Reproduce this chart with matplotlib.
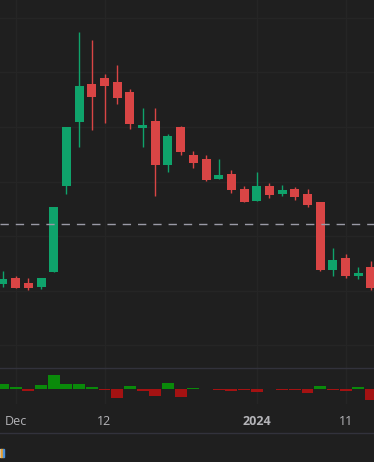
import numpy as np
import matplotlib
matplotlib.use("Agg")
import matplotlib.pyplot as plt
from matplotlib.patches import Rectangle

# daily candles (arbitrary price units)
opens = [10.565, 10.620, 10.574, 10.538, 10.672, 11.462, 12.049, 12.394, 12.449, 12.412,
         12.321, 11.994, 12.055, 11.655, 12.000, 11.744, 11.707, 11.527, 11.570, 11.432,
         11.325, 11.460, 11.389, 11.432, 11.386, 11.313, 10.693, 10.800, 10.638, 10.718]
highs = [10.684, 10.638, 10.620, 10.620, 11.267, 12.000, 12.870, 12.797, 12.485, 12.568,
         12.348, 12.174, 12.174, 11.936, 12.009, 11.780, 11.744, 11.707, 11.606, 11.460,
         11.588, 11.487, 11.469, 11.451, 11.432, 11.313, 10.892, 10.837, 10.718, 10.773]
lows = [10.538, 10.525, 10.510, 10.519, 10.672, 11.389, 11.820, 11.975, 12.039, 12.213,
        11.984, 11.820, 11.371, 11.591, 11.746, 11.627, 11.508, 11.527, 11.398, 11.316,
        11.325, 11.353, 11.371, 11.334, 11.270, 10.684, 10.638, 10.620, 10.611, 10.510]
closes = [10.611, 10.528, 10.528, 10.620, 11.267, 12.000, 12.375, 12.277, 12.378, 12.268,
          12.030, 12.018, 11.655, 11.918, 11.774, 11.673, 11.517, 11.560, 11.426, 11.316,
          11.460, 11.380, 11.423, 11.362, 11.288, 10.693, 10.782, 10.638, 10.663, 10.528]

# signed volume bars (positive = green up, negative = red down)
vol_delta = [188, 80, -80, 160, 548, 188, 188, 80, -52, -360, 108, -80, -280, 228, -320,
             40, -20, -52, -80, -52, -120, -20, -52, -52, -160, 108, -52, -80, 68, -440]

tick_pos = [1, 8, 20, 27]
tick_labels = ["Dec", "12", "2024", "11"]
price_grid = [10.0, 10.5, 11.0, 11.5, 12.0, 12.5, 13.0]
ref_price = 11.109

BG = "#1f1f1f"
GRID = "#252525"
UP = "#0fa36b"
DOWN = "#d94545"
VUP = "#0a8a0a"
VDOWN = "#a41212"

W, H = 374, 462
fig = plt.figure(figsize=(W / 100, H / 100), dpi=100, facecolor=BG)

ax = fig.add_axes([0, (H - 368) / H, 1, 368 / H], facecolor=BG)
axv = fig.add_axes([0, (H - 404) / H, 1, 36 / H], facecolor=BG, sharex=ax)

x = np.arange(len(opens))
o = np.array(opens)
c = np.array(closes)
up = c >= o
cols = np.where(up, UP, DOWN)

for xi in tick_pos:
    ax.axvline(xi, color=GRID, lw=1, zorder=0)
    axv.axvline(xi, color=GRID, lw=1, zorder=0)
for p in price_grid:
    ax.axhline(p, color=GRID, lw=1, zorder=0)

ax.vlines(x, lows, highs, colors=cols, lw=1, zorder=2)
body = np.maximum(np.abs(c - o), 0.02)
ax.bar(x, body, bottom=np.minimum(o, c), width=0.71, color=cols, zorder=3, linewidth=0)
ax.axhline(ref_price, color="#9a9aa6", lw=1, dashes=(6, 5), zorder=4)

ax.set_xlim(-0.236, 29.24)
ax.set_ylim(9.793, 13.163)
ax.set_xticks([])
ax.set_yticks([])
for s in ax.spines.values():
    s.set_visible(False)

v = np.array(vol_delta)
axv.bar(x, v, width=0.94, color=np.where(v > 0, VUP, VDOWN), linewidth=0, zorder=2)
axv.set_ylim(-612, 828)
axv.set_yticks([])
axv.set_xticks(tick_pos)
axv.set_xticklabels(tick_labels)
axv.tick_params(axis="x", length=0, pad=8, labelsize=9, labelcolor="#b4b4b8")
for lab in axv.get_xticklabels():
    lab.set_fontfamily("Open Sans")
axv.get_xticklabels()[2].set_fontweight("bold")
for s in axv.spines.values():
    s.set_visible(False)

# pane separators
for ypx in (368, 433):
    fig.add_artist(plt.Line2D([0, 1], [(H - ypx) / H] * 2, color="#32323c", lw=1,
                              transform=fig.transFigure))

# bit of the toolbar icon at bottom left
for x0, w, col in [(0, 1.0, "#c8c8c8"), (1.3, 1.3, "#e8a030"), (3.0, 1.2, "#4a90d9")]:
    fig.add_artist(Rectangle((x0 / W, (H - 457) / H), w / W, 8 / H, color=col,
                             transform=fig.transFigure))

fig.savefig("out.png", dpi=100, facecolor=BG)
